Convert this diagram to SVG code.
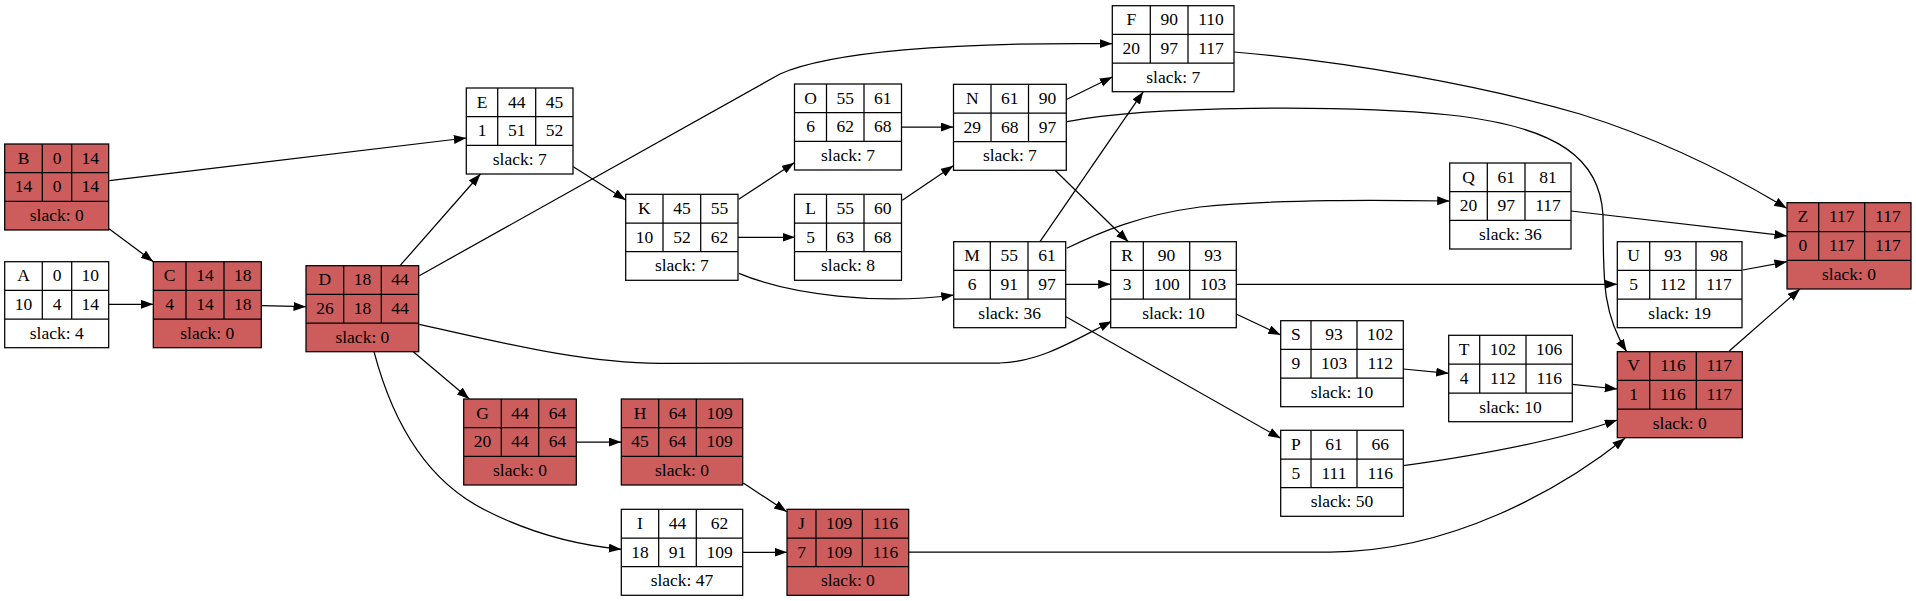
<svg xmlns="http://www.w3.org/2000/svg" width="1916" height="601" viewBox="0 0 1916 601">
<defs>
<marker id="ah" markerUnits="userSpaceOnUse" markerWidth="14" markerHeight="10" refX="12.5" refY="4.5" orient="auto"><path d="M0,0 L12.5,4.5 L0,9 z" fill="#000"/></marker>
<style>
.w rect{fill:#fff}
.r rect{fill:#cd5c5c}
.nd rect,.nd path{stroke:#000;stroke-width:1.25}
.nd path{fill:none}
.nd text{font-family:"Liberation Serif","Times New Roman",serif;font-size:17.5px;text-anchor:middle;fill:#000}
#edges path{fill:none;stroke:#000;stroke-width:1.25;marker-end:url(#ah)}
</style>
</defs>
<rect width="1916" height="601" fill="#fff"/>
<g id="edges">
<path d="M108.7,304.3 L153.3,304.3"/>
<path d="M109,228.7 L153.3,261.7"/>
<path d="M109.3,180.7 L466.3,138"/>
<path d="M261.3,305.7 L306,306.7"/>
<path d="M400,265.7 L480.5,174"/>
<path d="M419.3,275.7 C560,197 700,118 780,74 C830,52 950,42 1112.3,43.7"/>
<path d="M413.3,351.7 L469.3,399"/>
<path d="M374,351.7 C392,420 425,480 485,510 C530,533 575,545 621.3,549.3"/>
<path d="M419.3,324.3 C500,342 580,363 660,363.3 L1000,363 C1040,362 1075,340 1111.7,321.3"/>
<path d="M573.3,166.7 L625.7,200"/>
<path d="M576.3,442 L621.3,442"/>
<path d="M743.3,483 L786.7,511.7"/>
<path d="M742.7,552.3 L787,552.3"/>
<path d="M908.7,552 L1330,552 C1450,552 1560,490 1625,438.3"/>
<path d="M738,237.3 L795,237.3"/>
<path d="M739,273.3 C790,295 880,305 953.7,295"/>
<path d="M738.7,199.3 L794.3,162.7"/>
<path d="M902.3,200.3 L953.3,165.7"/>
<path d="M901.7,127 L953.3,127"/>
<path d="M1040,241.7 L1143.3,91.7"/>
<path d="M1066.7,248.3 C1100,232 1140,215 1200,207 C1280,199 1380,200 1449.7,201"/>
<path d="M1065.7,284.3 L1110.7,284.3"/>
<path d="M1066,316.7 L1280.7,438.3"/>
<path d="M1067,99.3 L1112.3,77"/>
<path d="M1055,170.3 L1128.3,241.7"/>
<path d="M1067,121.7 C1150,105 1350,105 1450,115 C1560,127 1600,160 1603,215 C1604,270 1600,310 1626.7,351.7"/>
<path d="M1236.7,314.3 L1280.7,335"/>
<path d="M1236.3,284.3 L1617.3,284.3"/>
<path d="M1234,52 C1350,62 1480,85 1580,114 C1670,142 1740,180 1786.7,208.3"/>
<path d="M1571,211 L1787,236"/>
<path d="M1742.7,270 L1787,261.7"/>
<path d="M1403.3,369 L1448.7,373.3"/>
<path d="M1572.3,384.3 L1617.3,389"/>
<path d="M1403.3,465.7 C1480,455 1560,440 1617.3,420"/>
<path d="M1729.3,351 L1800,289"/>
</g>

<g id="A" class="nd w">
<rect x="4.7" y="261.7" width="104" height="86"/>
<path d="M4.7,290.3H108.7M4.7,319H108.7M42.3,261.7V319M71.7,261.7V319"/>
<text x="23.5" y="281.2">A</text><text x="57" y="281.2">0</text><text x="90.2" y="281.2">10</text>
<text x="23.5" y="309.8">10</text><text x="57" y="309.8">4</text><text x="90.2" y="309.8">14</text>
<text x="56.7" y="338.5">slack: 4</text>
</g>
<g id="B" class="nd r">
<rect x="4.7" y="144" width="104" height="86"/>
<path d="M4.7,172.7H108.7M4.7,201.3H108.7M42.3,144V201.3M71.7,144V201.3"/>
<text x="23.5" y="163.5">B</text><text x="57" y="163.5">0</text><text x="90.2" y="163.5">14</text>
<text x="23.5" y="192.2">14</text><text x="57" y="192.2">0</text><text x="90.2" y="192.2">14</text>
<text x="56.7" y="220.8">slack: 0</text>
</g>
<g id="C" class="nd r">
<rect x="153.3" y="261.7" width="108" height="86"/>
<path d="M153.3,290.3H261.3M153.3,319H261.3M186,261.7V319M224,261.7V319"/>
<text x="169.7" y="281.2">C</text><text x="205" y="281.2">14</text><text x="242.7" y="281.2">18</text>
<text x="169.7" y="309.8">4</text><text x="205" y="309.8">14</text><text x="242.7" y="309.8">18</text>
<text x="207.3" y="338.5">slack: 0</text>
</g>
<g id="D" class="nd r">
<rect x="306" y="265.7" width="112.7" height="86"/>
<path d="M306,294.3H418.7M306,323H418.7M343.7,265.7V323M381.3,265.7V323"/>
<text x="324.9" y="285.2">D</text><text x="362.5" y="285.2">18</text><text x="400" y="285.2">44</text>
<text x="324.9" y="313.8">26</text><text x="362.5" y="313.8">18</text><text x="400" y="313.8">44</text>
<text x="362.4" y="342.5">slack: 0</text>
</g>
<g id="E" class="nd w">
<rect x="466.3" y="88" width="106.7" height="86"/>
<path d="M466.3,116.7H573M466.3,145.3H573M497.7,88V145.3M535.7,88V145.3"/>
<text x="482" y="107.5">E</text><text x="516.7" y="107.5">44</text><text x="554.4" y="107.5">45</text>
<text x="482" y="136.2">1</text><text x="516.7" y="136.2">51</text><text x="554.4" y="136.2">52</text>
<text x="519.7" y="164.8">slack: 7</text>
</g>
<g id="K" class="nd w">
<rect x="625.7" y="194.3" width="112.3" height="86"/>
<path d="M625.7,223H738M625.7,251.7H738M663,194.3V251.7M700.7,194.3V251.7"/>
<text x="644.4" y="213.8">K</text><text x="681.9" y="213.8">45</text><text x="719.4" y="213.8">55</text>
<text x="644.4" y="242.5">10</text><text x="681.9" y="242.5">52</text><text x="719.4" y="242.5">62</text>
<text x="681.9" y="271.2">slack: 7</text>
</g>
<g id="O" class="nd w">
<rect x="794.5" y="84" width="107" height="86"/>
<path d="M794.5,112.7H901.5M794.5,141.3H901.5M826.5,84V141.3M864,84V141.3"/>
<text x="810.5" y="103.5">O</text><text x="845.3" y="103.5">55</text><text x="882.8" y="103.5">61</text>
<text x="810.5" y="132.2">6</text><text x="845.3" y="132.2">62</text><text x="882.8" y="132.2">68</text>
<text x="848" y="160.8">slack: 7</text>
</g>
<g id="L" class="nd w">
<rect x="794.5" y="194.3" width="107" height="86"/>
<path d="M794.5,223H901.5M794.5,251.7H901.5M826.5,194.3V251.7M864,194.3V251.7"/>
<text x="810.5" y="213.8">L</text><text x="845.3" y="213.8">55</text><text x="882.8" y="213.8">60</text>
<text x="810.5" y="242.5">5</text><text x="845.3" y="242.5">63</text><text x="882.8" y="242.5">68</text>
<text x="848" y="271.2">slack: 8</text>
</g>
<g id="G" class="nd r">
<rect x="463.7" y="399" width="112.6" height="86"/>
<path d="M463.7,427.7H576.3M463.7,456.3H576.3M501.3,399V456.3M538.7,399V456.3"/>
<text x="482.5" y="418.5">G</text><text x="520" y="418.5">44</text><text x="557.5" y="418.5">64</text>
<text x="482.5" y="447.2">20</text><text x="520" y="447.2">44</text><text x="557.5" y="447.2">64</text>
<text x="520" y="475.8">slack: 0</text>
</g>
<g id="H" class="nd r">
<rect x="621.3" y="399" width="121.4" height="86"/>
<path d="M621.3,427.7H742.7M621.3,456.3H742.7M658.7,399V456.3M696.3,399V456.3"/>
<text x="640" y="418.5">H</text><text x="677.5" y="418.5">64</text><text x="719.5" y="418.5">109</text>
<text x="640" y="447.2">45</text><text x="677.5" y="447.2">64</text><text x="719.5" y="447.2">109</text>
<text x="682" y="475.8">slack: 0</text>
</g>
<g id="I" class="nd w">
<rect x="621.3" y="509.3" width="121.4" height="86"/>
<path d="M621.3,538H742.7M621.3,566.7H742.7M658.7,509.3V566.7M696.3,509.3V566.7"/>
<text x="640" y="528.8">I</text><text x="677.5" y="528.8">44</text><text x="719.5" y="528.8">62</text>
<text x="640" y="557.5">18</text><text x="677.5" y="557.5">91</text><text x="719.5" y="557.5">109</text>
<text x="682" y="586.2">slack: 47</text>
</g>
<g id="J" class="nd r">
<rect x="787" y="509.3" width="121.7" height="86"/>
<path d="M787,538H908.7M787,566.7H908.7M816,509.3V566.7M862.3,509.3V566.7"/>
<text x="801.5" y="528.8">J</text><text x="839.2" y="528.8">109</text><text x="885.5" y="528.8">116</text>
<text x="801.5" y="557.5">7</text><text x="839.2" y="557.5">109</text><text x="885.5" y="557.5">116</text>
<text x="847.9" y="586.2">slack: 0</text>
</g>
<g id="F" class="nd w">
<rect x="1112.3" y="5.7" width="121.7" height="86"/>
<path d="M1112.3,34.3H1234M1112.3,63H1234M1150.3,5.7V63M1188,5.7V63"/>
<text x="1131.3" y="25.2">F</text><text x="1169.2" y="25.2">90</text><text x="1211" y="25.2">110</text>
<text x="1131.3" y="53.8">20</text><text x="1169.2" y="53.8">97</text><text x="1211" y="53.8">117</text>
<text x="1173.2" y="82.5">slack: 7</text>
</g>
<g id="N" class="nd w">
<rect x="953.5" y="84.3" width="112.8" height="86"/>
<path d="M953.5,113H1066.3M953.5,141.7H1066.3M991,84.3V141.7M1028.5,84.3V141.7"/>
<text x="972.3" y="103.8">N</text><text x="1009.8" y="103.8">61</text><text x="1047.4" y="103.8">90</text>
<text x="972.3" y="132.5">29</text><text x="1009.8" y="132.5">68</text><text x="1047.4" y="132.5">97</text>
<text x="1009.9" y="161.2">slack: 7</text>
</g>
<g id="M" class="nd w">
<rect x="953.7" y="241.7" width="112" height="86"/>
<path d="M953.7,270.3H1065.7M953.7,299H1065.7M990.3,241.7V299M1028,241.7V299"/>
<text x="972" y="261.2">M</text><text x="1009.2" y="261.2">55</text><text x="1046.9" y="261.2">61</text>
<text x="972" y="289.8">6</text><text x="1009.2" y="289.8">91</text><text x="1046.9" y="289.8">97</text>
<text x="1009.7" y="318.5">slack: 36</text>
</g>
<g id="R" class="nd w">
<rect x="1110.7" y="241.7" width="125.6" height="86"/>
<path d="M1110.7,270.3H1236.3M1110.7,299H1236.3M1143.3,241.7V299M1189.7,241.7V299"/>
<text x="1127" y="261.2">R</text><text x="1166.5" y="261.2">90</text><text x="1213" y="261.2">93</text>
<text x="1127" y="289.8">3</text><text x="1166.5" y="289.8">100</text><text x="1213" y="289.8">103</text>
<text x="1173.5" y="318.5">slack: 10</text>
</g>
<g id="S" class="nd w">
<rect x="1280.7" y="320.7" width="122.6" height="86"/>
<path d="M1280.7,349.3H1403.3M1280.7,378H1403.3M1311,320.7V378M1357,320.7V378"/>
<text x="1295.9" y="340.2">S</text><text x="1334" y="340.2">93</text><text x="1380.2" y="340.2">102</text>
<text x="1295.9" y="368.8">9</text><text x="1334" y="368.8">103</text><text x="1380.2" y="368.8">112</text>
<text x="1342" y="397.5">slack: 10</text>
</g>
<g id="P" class="nd w">
<rect x="1280.7" y="430.3" width="122.6" height="86"/>
<path d="M1280.7,459H1403.3M1280.7,487.7H1403.3M1311,430.3V487.7M1357,430.3V487.7"/>
<text x="1295.9" y="449.8">P</text><text x="1334" y="449.8">61</text><text x="1380.2" y="449.8">66</text>
<text x="1295.9" y="478.5">5</text><text x="1334" y="478.5">111</text><text x="1380.2" y="478.5">116</text>
<text x="1342" y="507.2">slack: 50</text>
</g>
<g id="Q" class="nd w">
<rect x="1449.7" y="163" width="121.3" height="86"/>
<path d="M1449.7,191.7H1571M1449.7,220.3H1571M1487.3,163V220.3M1525,163V220.3"/>
<text x="1468.5" y="182.5">Q</text><text x="1506.2" y="182.5">61</text><text x="1548" y="182.5">81</text>
<text x="1468.5" y="211.2">20</text><text x="1506.2" y="211.2">97</text><text x="1548" y="211.2">117</text>
<text x="1510.4" y="239.8">slack: 36</text>
</g>
<g id="U" class="nd w">
<rect x="1617.3" y="241.7" width="124.7" height="86"/>
<path d="M1617.3,270.3H1742M1617.3,299H1742M1649.7,241.7V299M1696,241.7V299"/>
<text x="1633.5" y="261.2">U</text><text x="1672.9" y="261.2">93</text><text x="1719" y="261.2">98</text>
<text x="1633.5" y="289.8">5</text><text x="1672.9" y="289.8">112</text><text x="1719" y="289.8">117</text>
<text x="1679.7" y="318.5">slack: 19</text>
</g>
<g id="Z" class="nd r">
<rect x="1787" y="202.7" width="124" height="86.3"/>
<path d="M1787,231.7H1911M1787,260.3H1911M1818.7,202.7V260.3M1864.7,202.7V260.3"/>
<text x="1802.9" y="222.2">Z</text><text x="1841.7" y="222.2">117</text><text x="1887.9" y="222.2">117</text>
<text x="1802.9" y="251.2">0</text><text x="1841.7" y="251.2">117</text><text x="1887.9" y="251.2">117</text>
<text x="1849" y="279.8">slack: 0</text>
</g>
<g id="T" class="nd w">
<rect x="1448.7" y="335.3" width="123.6" height="86.4"/>
<path d="M1448.7,364.2H1572.3M1448.7,393H1572.3M1479.7,335.3V393M1526,335.3V393"/>
<text x="1464.2" y="354.8">T</text><text x="1502.9" y="354.8">102</text><text x="1549.2" y="354.8">106</text>
<text x="1464.2" y="383.7">4</text><text x="1502.9" y="383.7">112</text><text x="1549.2" y="383.7">116</text>
<text x="1510.5" y="412.5">slack: 10</text>
</g>
<g id="V" class="nd r">
<rect x="1617.3" y="351.7" width="125" height="86"/>
<path d="M1617.3,380.3H1742.3M1617.3,409H1742.3M1649.7,351.7V409M1696.3,351.7V409"/>
<text x="1633.5" y="371.2">V</text><text x="1673" y="371.2">116</text><text x="1719.3" y="371.2">117</text>
<text x="1633.5" y="399.8">1</text><text x="1673" y="399.8">116</text><text x="1719.3" y="399.8">117</text>
<text x="1679.8" y="428.5">slack: 0</text>
</g>
</svg>
